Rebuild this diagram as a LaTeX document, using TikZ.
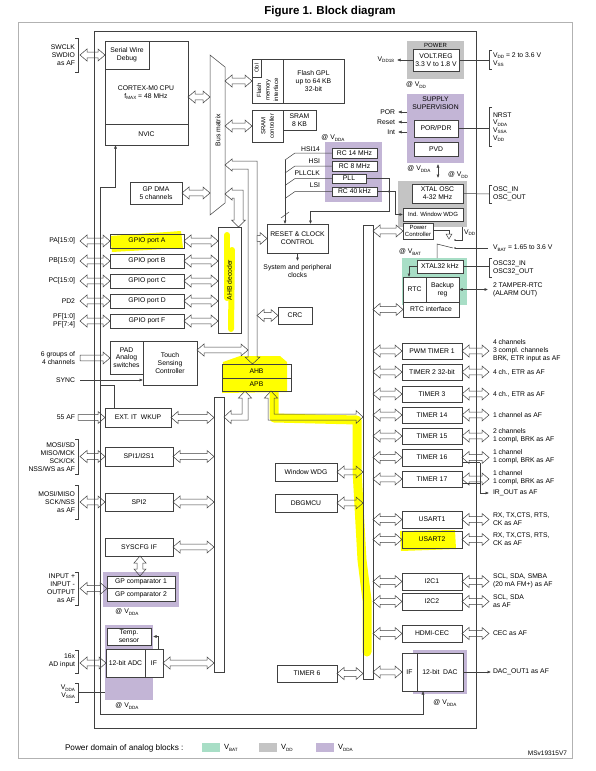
\documentclass[tikz,border=0pt]{standalone}
\usepackage{fontspec}
\setmainfont{Liberation Sans}
\usetikzlibrary{calc,arrows.meta}
\definecolor{ln}{HTML}{404040}
\definecolor{gbg}{HTML}{C4C4C4}
\definecolor{pbg}{HTML}{C3B5D6}
\definecolor{vbg}{HTML}{A8DEC6}
\definecolor{hl}{HTML}{FFFF00}
\newcommand\vsub[1]{\raisebox{-0.35ex}{\fontsize{4.6}{5}\selectfont #1}}
\newcommand\Vs[1]{V\vsub{#1}}
\newcommand\bx[7][]{\node[box,minimum width={(#5)-(#3)},minimum height={(#6)-(#4)},#1] (#2) at ({((#3)+(#5))/2},{((#4)+(#6))/2}) {#7};}
\newcommand\dah[3][]{\draw[barrow,#1] let \p1=#2, \p2=#3 in (\x1,\y1) -- (\x1+7pt,\y1+6pt) -- (\x1+7pt,\y1+2.8pt) -- (\x2-7pt,\y1+2.8pt) -- (\x2-7pt,\y1+6pt) -- (\x2,\y1) -- (\x2-7pt,\y1-6pt) -- (\x2-7pt,\y1-2.8pt) -- (\x1+7pt,\y1-2.8pt) -- (\x1+7pt,\y1-6pt) -- cycle;}
\newcommand\rah[3][]{\draw[barrow,#1] let \p1=#2, \p2=#3 in (\x1,\y1+2.8pt) -- (\x2-7pt,\y1+2.8pt) -- (\x2-7pt,\y1+6pt) -- (\x2,\y1) -- (\x2-7pt,\y1-6pt) -- (\x2-7pt,\y1-2.8pt) -- (\x1,\y1-2.8pt) -- cycle;}
\newcommand\dav[3][]{\draw[barrow,#1] let \p1=#2, \p2=#3 in (\x1,\y1) -- (\x1+6pt,\y1-7pt) -- (\x1+2.8pt,\y1-7pt) -- (\x1+2.8pt,\y2+7pt) -- (\x1+6pt,\y2+7pt) -- (\x1,\y2) -- (\x1-6pt,\y2+7pt) -- (\x1-2.8pt,\y2+7pt) -- (\x1-2.8pt,\y1-7pt) -- (\x1-6pt,\y1-7pt) -- cycle;}
\newcommand\brR[3]{\draw[wire] (#1+3,#2) -- (#1,#2) -- (#1,#3) -- (#1+3,#3);}
\newcommand\brL[3]{\draw[wire] (#1-3,#2) -- (#1,#2) -- (#1,#3) -- (#1-3,#3);}
\begin{document}
\begin{tikzpicture}[x=1pt,y=-1pt,
  every node/.style={inner sep=0pt,outer sep=0pt,font=\fontsize{6.8}{7.8}\selectfont},
  box/.style={draw=ln,line width=0.6pt,fill=white,align=center},
  barrow/.style={draw=ln,line width=0.5pt,fill=none},
  wire/.style={draw=ln,line width=0.5pt},
  tarr/.style={wire,-{Latex[length=3.5pt,width=3pt]}},
  darr/.style={wire,{Latex[length=3.5pt,width=3pt]}-{Latex[length=3.5pt,width=3pt]}},
  labl/.style={anchor=west,align=left},
  labr/.style={anchor=east,align=right},
  small/.style={font=\fontsize{6}{6.8}\selectfont},
  hlline/.style={draw=hl,line cap=round,line join=round}]
\useasboundingbox (0,0) rectangle (596,771);
\fill[white] (0,0) rectangle (596,771);

% title
\node[font=\bfseries\fontsize{11.5}{13}\selectfont] (title) at (330,12) {Figure 1. Block diagram};

% power-domain backgrounds
\fill[gbg] (407,41) rectangle (464,79);
\fill[pbg] (407,94) rectangle (464,163);
\fill[gbg] (398,181) rectangle (467,227);
\fill[vbg] (402,258) rectangle (467,305);
\fill[pbg] (325,142) rectangle (382,202);
\fill[pbg] (103,572) rectangle (179,607);
\fill[pbg] (105,625) rectangle (153,700);
\fill[pbg] (413,650) rectangle (467,694);

% yellow highlights
\fill[hl] (110,236) -- (181,231) -- (183,248) -- (112,252) -- cycle;
\draw[hlline,line width=6pt] (227,235) -- (227,298);
\draw[hlline,line width=6pt] (232,250) -- (231,329);
\fill[hl] (223,362) -- (240,356) -- (280,356) -- (287,362) -- (287,392) -- (222,393) -- cycle;
\draw[hlline,line width=9pt] (274,390) -- (274,418) -- (357,420) -- (357,470) -- (362,560) -- (367,600) -- (367,652);
\fill[hl] (400,531) -- (455,530) -- (456,549) -- (401,551) -- cycle;

% frames
\draw[gray!60,line width=0.8pt] (18,22) rectangle (572,758);
\draw[ln,line width=0.7pt] (94,31) rectangle (476,728);

% CPU
\bx{cpu}{105}{41}{188}{145}{}
\bx{swd}{105}{41}{149}{69}{Serial Wire\\Debug}
\bx{nvic}{105}{124}{188}{145}{NVIC}
\node[align=center] (cputxt) at (146,93) {CORTEX-M0 CPU\\f\vsub{MAX} = 48 MHz};
\node[labr] (swl) at (75,55) {SWCLK\\SWDIO\\as AF};
\brL{78}{38}{72}
\dah{($(swl.east)+(5,0)$)}{(swd.west)}

% bus matrix
\node[minimum width=15pt,minimum height=160pt] (bm) at (217.5,135) {};
\draw[wire] (210,55) -- (225,67) -- (225,203) -- (210,215) -- cycle;
\node[rotate=90] (bmt) at (218,130) {Bus matrix};
\dah{($(cpu.east)+(0,4)$)}{(bm.west)}

% flash
\bx{flash}{252}{59}{344}{103}{}
\bx{fmi}{252}{59}{283}{103}{}
\bx{obl}{252}{59}{261}{77}{}
\node[rotate=90,font=\fontsize{5.6}{6}\selectfont] (oblt) at (256.5,68) {Obl};
\node[rotate=90,align=center,font=\fontsize{6}{8.6}\selectfont] (fmit) at (267.5,90) {Flash\\memory\\interface};
\node[align=center] (flt) at (313.5,81) {Flash GPL\\up to 64 KB\\32-bit};
\dah{(bm.east|-flash.west)}{(flash.west)}

% SRAM
\bx{sramc}{252}{110}{283}{142}{}
\node[rotate=90,align=center,font=\fontsize{6}{8.6}\selectfont] (sct) at (267.5,126) {SRAM\\controller};
\bx{sram}{283}{110}{316}{130}{SRAM\\8 KB}
\dah{(bm.east|-sramc.west)}{(sramc.west)}

% GP DMA
\bx{dma}{130}{182}{182}{204}{GP DMA\\5 channels}
\dah{(dma.east)}{(bm.west|-dma.east)}

% clocks
\node (vdda1) at (333,138) {@ \Vs{DDA}};
\bx{rc14}{332}{148}{377}{158}{RC 14 MHz}
\bx{rc8}{332}{161}{377}{171}{RC 8 MHz}
\bx{pll}{332}{174}{366}{183}{PLL}
\bx{rc40}{332}{187}{377}{196}{RC 40 kHz}
\node[labr] (lhsi14) at (320,149) {HSI14};
\node[labr] (lhsi) at (320,161) {HSI};
\node[labr] (lpllclk) at (320,173) {PLLCLK};
\node[labr] (llsi) at (320,185) {LSI};
\draw[wire] (rc14.west) -- ++(-37,0) -- ++(-10,7) coordinate (cb);
\draw[wire] (rc8.west) -- ++(-37,0) -- ++(-10,7);
\draw[wire] (pll.west) -- ++(-37,0) -- ++(-10,7);
\draw[wire] (rc40.west) -- ++(-37,0) -- ++(-10,7);

% reset & clock control
\bx{rcc}{267}{224}{328}{253}{RESET \& CLOCK\\CONTROL}
\draw[tarr] (cb) -- (cb|-rcc.north);
\draw[wire] (281,218) -- (289,212);
\draw[tarr] (rcc.south) -- ++(0,8) coordinate (spcarr);
\node[align=center] (spc) at (297.5,271) {System and peripheral\\clocks};
\draw[tarr] (pll.east) -| (389,211) -| ($(rcc.north)+(13,0)$);

% power
\node[small] (powt) at (435.5,45) {POWER};
\bx{vreg}{413}{49}{459}{71}{VOLT.REG\\3.3 V to 1.8 V}
\draw[tarr] (vreg.west) -- ++(-16,0) coordinate (v18);
\node[labr] (lv18) at (394,60) {\Vs{DD18}};
\node[labl] (lvdd) at (493,59.5) {\Vs{DD} = 2 to 3.6 V\\\Vs{SS}};
\brR{489}{50}{69}
\draw[wire] (vreg.east) -- (489,60);
\node (vddat) at (416,85) {@ \Vs{DD}};

% supply supervision
\node[align=center] (supt) at (435.5,103.5) {SUPPLY\\SUPERVISION};
\bx{por}{414}{120}{458}{137}{POR/PDR}
\bx{pvd}{414}{142}{458}{156}{PVD}
\draw[tarr] (407,112) -- (398,112);
\draw[tarr] (407,122) -- (398,122);
\draw[tarr] (407,132) -- (398,132);
\node[labr] (lpor) at (395,112) {POR};
\node[labr] (lrst) at (395,122) {Reset};
\node[labr] (lint) at (395,132) {Int};
\draw[wire] (por.east) -- (489,128.5);
\node[labl] (lnrst) at (493,127) {NRST\\\Vs{DDA}\\\Vs{SSA}\\\Vs{DD}};
\brR{489}{107}{146}
\node (vdda2) at (419,169) {@ \Vs{DDA}};
\draw[darr] (438,164) -- (438,178);
\node (vdd2) at (458,175) {@ \Vs{DD}};

% XTAL OSC etc.
\bx{xtal}{412}{184}{463}{203}{XTAL OSC\\4-32 MHz}
\bx[small]{iwdg}{403}{208}{463}{221}{Ind. Window WDG}
\draw[wire] (xtal.east) -- (489,194);
\node[labl] (losc) at (493,194) {OSC\_IN\\OSC\_OUT};
\brR{489}{185}{203}
\draw[tarr] (rc40.east) -- (395,191.5) |- (iwdg.west);
\fill[ln] (389,191.5) circle (1.1);

% power controller and switch
\bx[small]{pwrc}{403}{223}{433}{239}{Power\\Controller}
\draw[wire] ($(pwrc.north east)+(0,7)$) -- ++(16,0) -- ++(0,4);
\draw[wire] (446,234) -- (452,234) -- (449,239) -- cycle;
\fill[ln] (455,240) circle (0.9);
\draw[wire] (455,240) -- (462,240) -- (462,227);
\node[labl] (lvddp) at (464,233) {\Vs{DD}};
\fill[ln] (455,248) circle (0.9);
\draw[wire] (455,248) -- (488,248);
\node[labl] (lvbat) at (493,248) {\Vs{BAT} = 1.65 to 3.6 V};
\draw[wire] (437,258) -- (437,244) -- (453,248);
\node (vbatat) at (410,252) {@ \Vs{BAT}};

% RTC domain
\bx{xtal32}{417}{260}{463}{273}{XTAL32 kHz}
\bx{rtc}{403}{277}{426}{302}{RTC}
\bx{bkp}{426}{277}{459}{302}{Backup\\reg}
\bx{rtcif}{403}{302}{459}{317}{RTC interface}
\draw[tarr] (xtal32.west) -| ($(rtc.north west)+(6,0)$);
\draw[wire] (xtal32.east) -- (489,266.5);
\node[labl] (losc32) at (493,267.5) {OSC32\_IN\\OSC32\_OUT};
\brR{489}{258}{277}
\draw[darr] (bkp.east) -- (488,289.5);
\node[labl] (ltamp) at (493,290) {2 TAMPER-RTC\\(ALARM OUT)};

% AHB decoder and GPIO
\bx[fill=none]{ahbd}{218}{227}{241}{333}{}
\node[rotate=90] (ahbdt) at (229.5,280) {AHB decoder};
\bx[fill=none]{gpa}{110}{234}{184}{248}{GPIO port A}
\bx{gpb}{110}{254}{184}{268}{GPIO port B}
\bx{gpc}{110}{274}{184}{288}{GPIO port C}
\bx{gpd}{110}{294}{184}{308}{GPIO port D}
\bx{gpf}{110}{314}{184}{328}{GPIO port F}
\node[labr] (lpa) at (75,241) {PA[15:0]};
\node[labr] (lpb) at (75,261) {PB[15:0]};
\node[labr] (lpc) at (75,281) {PC[15:0]};
\node[labr] (lpd) at (75,301) {PD2};
\node[labr] (lpf) at (75,321) {PF[1:0]\\PF[7:4]};
\foreach \g in {gpa,gpb,gpc,gpd,gpf}{
  \dah{($(\g.west)+(-30,0)$)}{(\g.west)}
  \dah{(\g.east)}{(ahbd.west|-\g.east)}
}
% bus matrix to AHB decoder
\draw[barrow] (225,194) -- (232,188) -- (232,190) -- (243,190) -- (243,220) -- (245.5,220) -- (238.5,227) -- (231.5,220) -- (234,220) -- (234,198) -- (232,198) -- (232,200) -- cycle;

% AHB shaft
\draw[barrow] (225,165) -- (232,159) -- (232,161) -- (257,161) -- (257,357) -- (260,357) -- (252.5,364) -- (245,357) -- (248,357) -- (248,169) -- (232,169) -- (232,171) -- cycle;
\coordinate (ahbL) at (248,300);
\coordinate (ahbR) at (257,300);
\rah[fill=white]{(ahbR|-rcc.west)}{(rcc.west)}
\bx{crc}{278}{307}{312}{324}{CRC}
\dah[fill=white]{(ahbR|-crc.west)}{(crc.west)}

% touch sensing
\bx{pad}{110}{341}{143}{374}{PAD\\Analog\\switches}
\bx{tsc}{143}{341}{197}{385}{Touch\\Sensing\\Controller}
\node[labr] (l6g) at (75,358) {6 groups of\\4 channels};
\rah{($(l6g.east)+(5,0)$)}{(pad.west)}
\node[labr] (lsync) at (75,380) {SYNC};
\draw[tarr] ($(lsync.east)+(5,0)$) -- (tsc.west|-lsync.east);
\dah[fill=white]{($(tsc.east)+(0,-13)$)}{(ahbL|-tsc.east)}

% AHB / APB
\bx[fill=none]{ahb}{222}{364}{291}{378}{AHB}
\bx[fill=none]{apb}{222}{378}{291}{391}{APB}
\bx{apbl}{214}{397}{224}{672}{}
\bx[fill=none]{apbr}{363}{225}{373}{679}{}
\draw[barrow] (245,391) -- (251.5,398) -- (248,398) -- (248,420) -- (231,420) -- (231,423.5) -- (224,417) -- (231,410.5) -- (231,414) -- (242,414) -- (242,398) -- (238.5,398) -- cycle;
\draw[barrow] (271,391) -- (277.5,398) -- (274,398) -- (274,414) -- (356,414) -- (356,410.5) -- (363,417) -- (356,423.5) -- (356,420) -- (268,420) -- (268,398) -- (264.5,398) -- cycle;

% left APB peripherals
\bx{exti}{105}{408}{171}{427}{EXT. IT~~WKUP}
\node[labr] (l55) at (75,417.5) {55 AF};
\rah{(78,417.5)}{(exti.west)}
\dah{(exti.east)}{(apbl.west|-exti.east)}
\bx{spi1}{105}{447}{173}{466}{SPI1/I2S1}
\node[labr] (lspi1) at (75,457) {MOSI/SD\\MISO/MCK\\SCK/CK\\NSS/WS as AF};
\brL{78}{439}{474}
\dah{(80,456.5)}{(spi1.west)}
\dah{(spi1.east)}{(apbl.west|-spi1.east)}
\bx{spi2}{105}{493}{173}{511}{SPI2}
\node[labr] (lspi2) at (75,502) {MOSI/MISO\\SCK/NSS\\as AF};
\brL{78}{485}{519}
\dah{(80,502)}{(spi2.west)}
\dah{(spi2.east)}{(apbl.west|-spi2.east)}
\bx{syscfg}{105}{538}{173}{556}{SYSCFG IF}
\dah{(syscfg.east)}{(apbl.west|-syscfg.east)}

% comparators
\bx{cmp1}{107}{576}{175}{588.5}{GP comparator 1}
\bx{cmp2}{107}{588.5}{175}{601}{GP comparator 2}
\dav{(140,556)}{(140,576)}
\node (vdda3) at (127,612) {@ \Vs{DDA}};
\node[labr] (lcmp) at (75,588) {INPUT +\\INPUT -\\OUTPUT\\as AF};
\brL{78}{572}{605}
\dah{(80,588.5)}{(cmp1.south west)}

% ADC
\bx{temp}{107}{628}{151}{645}{Temp.\\sensor}
\bx{adc}{106}{649}{145}{677}{12-bit ADC}
\bx{adcif}{145}{649}{163}{677}{IF}
\draw[tarr] ($(adcif.north)+(4,0)$) |- ($(temp.east)+(2,0)$);
\node[labr] (ladc) at (75,661) {16x\\AD input};
\brL{78}{650}{673}
\dah{(80,663)}{(adc.west)}
\dah{(adcif.east)}{(apbl.west|-adcif.east)}
\node[labr] (lvdda) at (75,692) {\Vs{DDA}\\\Vs{SSA}};
\brL{78}{683}{702}
\draw[wire] (78,692) -- (105,692);
\node (vdda4) at (127,706) {@ \Vs{DDA}};

% middle APB peripherals
\bx{wwdg}{275}{463}{337}{481}{Window WDG}
\dah{(wwdg.east)}{(apbr.west|-wwdg.east)}
\bx{dbg}{275}{494}{337}{512}{DBGMCU}
\dah{(dbg.east)}{(apbr.west|-dbg.east)}
\bx{tim6}{277}{665}{337}{682}{TIMER 6}
\dah{(tim6.east)}{(apbr.west|-tim6.east)}

% right APB peripherals
\coordinate (pinx) at (489,0);
\bx{pwm}{402}{343}{462}{359}{PWM TIMER 1}
\bx{tim2}{402}{364}{462}{380}{TIMER 2 32-bit}
\bx{tim3}{402}{386}{462}{402}{TIMER 3}
\bx{tim14}{402}{407}{462}{423}{TIMER 14}
\bx{tim15}{402}{428}{462}{444}{TIMER 15}
\bx{tim16}{402}{449}{462}{466}{TIMER 16}
\bx{tim17}{402}{471}{462}{487}{TIMER 17}
\bx{usart1}{402}{511}{462}{528}{USART1}
\bx[fill=none]{usart2}{402}{531}{462}{548}{USART2}
\bx{i2c1}{402}{573}{462}{590}{I2C1}
\bx{i2c2}{402}{593}{462}{610}{I2C2}
\bx{cec}{402}{625}{462}{642}{HDMI-CEC}
\foreach \q in {pwm,tim2,tim3,tim14,tim15,tim16,tim17,usart1,usart2,i2c1,i2c2,cec}{
  \dah{(apbr.east|-\q.west)}{(\q.west)}
  \dah{(\q.east)}{(pinx|-\q.east)}
}
\dah{(apbr.east|-pwrc.west)}{(pwrc.west)}
\dah{(apbr.east|-rtcif.west)}{(rtcif.west)}
\node[labl] (lpwm) at (493,351) {4 channels\\3 compl. channels\\BRK, ETR input as AF};
\node[labl] (ltim2) at (493,372) {4 ch., ETR as AF};
\node[labl] (ltim3) at (493,394) {4 ch., ETR as AF};
\node[labl] (ltim14) at (493,415) {1 channel as AF};
\node[labl] (ltim15) at (493,436) {2 channels\\1 compl, BRK as AF};
\node[labl] (ltim16) at (493,457) {1 channel\\1 compl, BRK as AF};
\node[labl] (ltim17) at (493,478) {1 channel\\1 compl, BRK as AF};
\node[labl] (liro) at (493,493) {IR\_OUT as AF};
\draw[wire] ($(tim16.east)+(0,5)$) -- ++(18,0) coordinate (ir1);
\draw[wire] ($(tim17.east)+(0,4)$) -| (ir1);
\draw[tarr] (ir1) |- ($(liro.west)+(-4,0)$);
\node[labl] (lus1) at (493,519.5) {RX, TX,CTS, RTS,\\CK as AF};
\node[labl] (lus2) at (493,539.5) {RX, TX,CTS, RTS,\\CK as AF};
\node[labl] (li2c1) at (493,581) {SCL, SDA, SMBA\\(20 mA FM+) as AF};
\node[labl] (li2c2) at (493,601) {SCL, SDA\\as AF};
\node[labl] (lcec) at (493,633.5) {CEC as AF};

% DAC
\bx{dacif}{402}{653}{417}{691}{IF}
\bx{dac}{417}{653}{463}{691}{12-bit~~DAC}
\dah{(apbr.east|-dacif.west)}{(dacif.west)}
\node[labl] (ldac) at (493,672) {DAC\_OUT1 as AF};
\draw[tarr] (dac.east) -- ($(ldac.west)+(-2,0)$);
\node (vdda5) at (445,703) {@ \Vs{DDA}};

% interrupt / trigger lines
\coordinate (trk1) at (100,187);
\coordinate (trk2) at (100,714);
\draw[tarr] (trk1) -| ($(nvic.south)+(-31,0)$);
\draw[wire] (trk1) -- (trk2);
\draw[tarr] (trk2) -| ($(dac.south west)+(6,0)$);
\draw[wire] (100,385) -| ($(exti.north west)+(9,0)$);

% legend
\node[anchor=west,font=\fontsize{8.2}{9}\selectfont] (legt) at (65,748) {Power domain of analog blocks :};
\fill[vbg] (202,743) rectangle (220,752);
\node[anchor=west,font=\fontsize{7.5}{9}\selectfont] (lgbat) at (224,748) {\Vs{BAT}};
\fill[gbg] (259,743) rectangle (277,752);
\node[anchor=west,font=\fontsize{7.5}{9}\selectfont] (lgdd) at (281,748) {\Vs{DD}};
\fill[pbg] (316,743) rectangle (334,752);
\node[anchor=west,font=\fontsize{7.5}{9}\selectfont] (lgdda) at (338,748) {\Vs{DDA}};
\node[anchor=east,font=\fontsize{6.5}{8}\selectfont] (ref) at (567,753) {MSv19315V7};
\end{tikzpicture}
\end{document}
